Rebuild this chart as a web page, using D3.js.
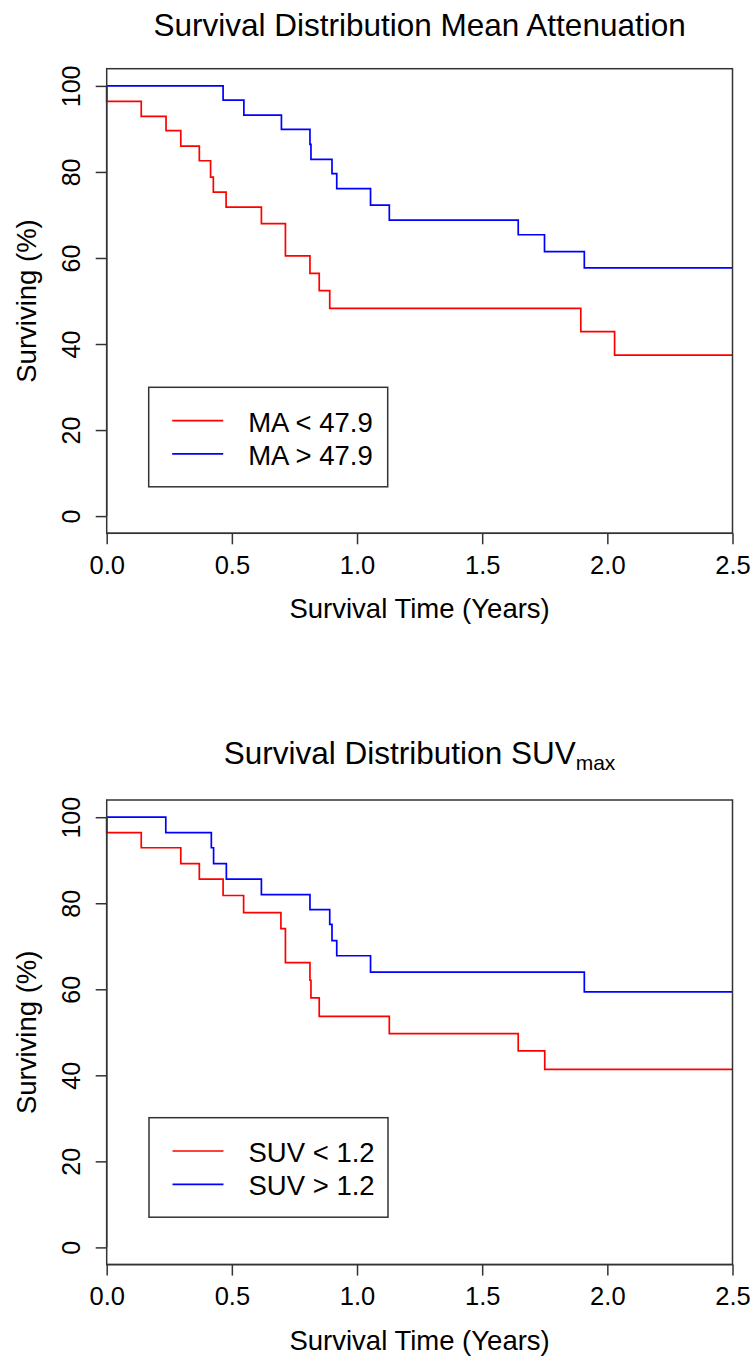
<!DOCTYPE html>
<html><head><meta charset="utf-8">
<script src="https://cdn.jsdelivr.net/npm/d3@7"></script>
<style>
html,body{margin:0;padding:0;background:#fff;}
svg{display:block;}
text{font-family:"Liberation Sans",Arial,sans-serif;fill:#000;}
</style></head>
<body>
<svg id="chart" width="754" height="1357"></svg>
<script>
// ---------- data ----------
const xTicks = [0, 0.5, 1.0, 1.5, 2.0, 2.5];
const yTicks = [0, 20, 40, 60, 80, 100];

const titles = ["Survival Distribution Mean Attenuation", "Survival Distribution SUV"];
const titleSubs = ["", "max"];
const xLabel = "Survival Time (Years)";
const yLabel = "Surviving (%)";

const legendTop = ["MA < 47.9", "MA > 47.9"];
const legendBottom = ["SUV < 1.2", "SUV > 1.2"];

// Panel 1: Mean Attenuation
const maLowTimes  = [0, 0.138, 0.237, 0.296, 0.370, 0.415, 0.426, 0.477, 0.618, 0.714, 0.812, 0.849, 0.891, 1.894, 2.029];
const maLowSurv   = [96.4, 92.9, 89.6, 86.0, 82.6, 78.8, 75.3, 71.8, 68.0, 60.5, 56.4, 52.4, 48.3, 42.9, 37.4];
const maHighTimes = [0.465, 0.548, 0.698, 0.812, 0.816, 0.900, 0.919, 1.054, 1.129, 1.644, 1.749, 1.908];
const maHighSurv  = [96.7, 93.2, 89.9, 86.4, 82.9, 79.6, 76.1, 72.3, 68.8, 65.4, 61.5, 57.7];

// Panel 2: SUVmax
const suvLowTimes  = [0, 0.138, 0.296, 0.370, 0.465, 0.547, 0.696, 0.714, 0.812, 0.816, 0.849, 1.129, 1.644, 1.750];
const suvLowSurv   = [96.4, 92.9, 89.2, 85.6, 81.8, 77.8, 74.1, 66.2, 62.1, 58.0, 53.7, 49.7, 45.7, 41.4];
const suvHighTimes = [0.236, 0.418, 0.427, 0.478, 0.618, 0.812, 0.891, 0.900, 0.919, 1.054, 1.908];
const suvHighSurv  = [96.4, 92.9, 89.2, 85.6, 82.0, 78.5, 75.1, 71.3, 67.8, 64.0, 59.4];

const colors = ["#ff0000", "#0000ff"];
const tMax = 2.5;

// ---------- drawing ----------
const svg = d3.select("#chart");
const AX = "#333";

function kmPoints(times, surv) {
  const pts = [[0, 100]];
  times.forEach((t, i) => pts.push([t, surv[i]]));
  pts.push([tMax, surv[surv.length - 1]]);
  return pts;
}

function panel(opt) {
  const left = 106.7, right = 732.5, top = opt.top, bottom = opt.top + 464.6;
  const x = d3.scaleLinear().domain([0, tMax]).range([left, right]);
  const y = d3.scaleLinear().domain([-4, 104]).range([bottom, top]);
  const g = svg.append("g");

  // title
  const tt = g.append("text").attr("x", (left + right) / 2).attr("y", opt.titleY)
    .attr("text-anchor", "middle").style("font-size", "31.5px");
  tt.append("tspan").text(opt.title);
  if (opt.sub) tt.append("tspan").attr("dy", 6).style("font-size", "21px").text(opt.sub);

  // curves
  const line = d3.line().x(d => x(d[0])).y(d => y(d[1])).curve(d3.curveStepAfter);
  opt.series.forEach((s, i) => {
    g.append("path").attr("d", line(kmPoints(s.t, s.v)))
      .attr("fill", "none").attr("stroke", colors[i]).attr("stroke-width", 1.7);
  });

  // box
  g.append("rect").attr("x", left).attr("y", top).attr("width", right - left).attr("height", bottom - top)
    .attr("fill", "none").attr("stroke", AX).attr("stroke-width", 1.5);

  // y axis
  const ya = g.append("g").attr("transform", `translate(${left},0)`)
    .call(d3.axisLeft(y).tickValues(yTicks).tickSize(11).tickFormat(d3.format("d")));
  ya.attr("font-family", null).attr("font-size", null);
  ya.select(".domain").attr("d", `M0,${y(0)}V${y(100)}`).attr("stroke", AX).attr("stroke-width", 1.5);
  ya.selectAll(".tick line").attr("stroke", AX).attr("stroke-width", 1.5);
  ya.selectAll(".tick text").attr("x", null).attr("dy", null)
    .attr("transform", "translate(-26.7,0) rotate(-90)")
    .attr("text-anchor", "middle").style("font-size", "25px").attr("fill", "#000");

  // x axis
  const xa = g.append("g").attr("transform", `translate(0,${bottom})`)
    .call(d3.axisBottom(x).tickValues(xTicks).tickSize(11).tickFormat(d3.format(".1f")));
  xa.attr("font-family", null).attr("font-size", null);
  xa.select(".domain").attr("d", `M${x(0)},0H${x(tMax)}`).attr("stroke", AX).attr("stroke-width", 1.5);
  xa.selectAll(".tick line").attr("stroke", AX).attr("stroke-width", 1.5);
  xa.selectAll(".tick text").attr("y", 40.7).attr("dy", null)
    .style("font-size", "25.5px").attr("fill", "#000");

  // axis labels
  g.append("text").attr("x", (left + right) / 2).attr("y", bottom + 85)
    .attr("text-anchor", "middle").style("font-size", "27.5px").text(xLabel);
  g.append("text").attr("transform", `translate(36,${(top + bottom) / 2}) rotate(-90)`)
    .attr("text-anchor", "middle").style("font-size", "27.5px").text(yLabel);

  // legend
  const L = opt.legend;
  g.append("rect").attr("x", L.x).attr("y", L.y).attr("width", 239).attr("height", 99.5)
    .attr("fill", "#fff").attr("stroke", AX).attr("stroke-width", 1.5);
  L.labels.forEach((lab, i) => {
    const ly = L.y + 33.3 + i * 33.3;
    g.append("line").attr("x1", L.x + 23.5).attr("x2", L.x + 74.5).attr("y1", ly).attr("y2", ly)
      .attr("stroke", colors[i]).attr("stroke-width", 1.7);
    g.append("text").attr("x", L.x + 99.5).attr("y", ly + 11).style("font-size", "27.5px").text(lab);
  });
}

panel({
  top: 68.7, titleY: 35.7, title: titles[0], sub: titleSubs[0],
  series: [{t: maLowTimes, v: maLowSurv}, {t: maHighTimes, v: maHighSurv}],
  legend: {x: 148.7, y: 387.3, labels: legendTop}
});
panel({
  top: 800, titleY: 764, title: titles[1], sub: titleSubs[1],
  series: [{t: suvLowTimes, v: suvLowSurv}, {t: suvHighTimes, v: suvHighSurv}],
  legend: {x: 149, y: 1117.7, labels: legendBottom}
});
</script>
</body></html>
